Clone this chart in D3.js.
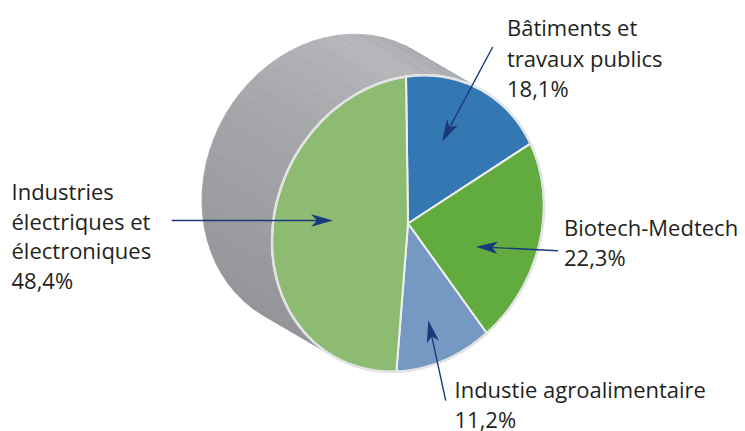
<!DOCTYPE html>
<html>
<head>
<meta charset="utf-8">
<script src="https://cdn.jsdelivr.net/npm/d3@7"></script>
<style>
  html, body { margin: 0; padding: 0; background: #fff; }
  svg { display: block; }
  text { font-family: "Open Sans", "Noto Sans", sans-serif; fill: #231f20; }
</style>
</head>
<body>
<svg id="chart" width="745" height="431"></svg>
<script>
// ---- data ----
const categories = ["Bâtiments et travaux publics", "Biotech-Medtech", "Industie agroalimentaire", "Industries électriques et électroniques"];
const values = [18.1, 22.3, 11.2, 48.4];
const colors = ["#3478b3", "#62ab3e", "#7699c3", "#8ebb72"];
const nameLines = [["Bâtiments et", "travaux publics"], ["Biotech-Medtech"], ["Industie agroalimentaire"], ["Industries", "électriques et", "électroniques"]];

// ---- layout ----
const W = 745, H = 431;
const cx = 408, cy = 223.5;
const M = [136, 2, -20, 147];      // x' = a*x + b*y ; y' = c*x + d*y  (tilted disc)
const depth = [-70, -41];          // offset of the back face
const labelPos = [
  {x: 507, y: 36, lh: 30.6},
  {x: 564, y: 236, lh: 30},
  {x: 454.5, y: 397.5, lh: 30.3},
  {x: 11.5, y: 200, lh: 29.7}
];
const arrowStart = [[492.7, 47], [558, 250.7], [445.7, 400.7], [171.7, 220.5]];
const arrowTip = [[26.3, 0.582], [114.4, 0.545], [168.4, 0.693], [279.8, 0.558]]; // degrees, radius fraction
const arrowColor = "#173a7c";

const svg = d3.select("#chart");

function proj(x, y) { return [cx + M[0]*x + M[1]*y, cy + M[2]*x + M[3]*y]; }
function rim(theta, r = 1) { return proj(r*Math.sin(theta), -r*Math.cos(theta)); }

// ---- cylinder side ----
const side = svg.append("g");
const step = Math.PI / 36;
const shade = d3.interpolateRgb("#b7b8bc", "#919296");
for (let t = 0; t < 2*Math.PI - 1e-9; t += step) {
  const tm = t + step/2;
  const T = [M[0]*Math.cos(tm) + M[1]*Math.sin(tm), M[2]*Math.cos(tm) + M[3]*Math.sin(tm)];
  const cross = T[0]*depth[1] - T[1]*depth[0];
  if (cross >= 0) continue;
  const f1 = rim(t), f2 = rim(t + step);
  const b1 = [f1[0] + depth[0], f1[1] + depth[1]], b2 = [f2[0] + depth[0], f2[1] + depth[1]];
  const k = Math.pow((1 - Math.cos(tm)) / 2, 0.45);
  const col = shade(k);
  side.append("path")
    .attr("d", d3.line()([f1, f2, b2, b1]) + "Z")
    .attr("fill", col).attr("stroke", col).attr("stroke-width", 0.8);
}
// faint generator lines
for (let t = 0; t < 2*Math.PI - 1e-9; t += step*2) {
  const T = [M[0]*Math.cos(t) + M[1]*Math.sin(t), M[2]*Math.cos(t) + M[3]*Math.sin(t)];
  const cross = T[0]*depth[1] - T[1]*depth[0];
  if (cross >= 0) continue;
  const f = rim(t);
  side.append("line")
    .attr("x1", f[0]).attr("y1", f[1]).attr("x2", f[0] + depth[0]).attr("y2", f[1] + depth[1])
    .attr("stroke", "#85868a").attr("stroke-opacity", 0.35).attr("stroke-width", 0.6);
}

// ---- pie face ----
const arcs = d3.pie().sort(null).value(d => d)(values);
const arc = d3.arc().innerRadius(0).outerRadius(1);
const face = svg.append("g")
  .attr("transform", `matrix(${M[0]},${M[2]},${M[1]},${M[3]},${cx},${cy})`);
face.selectAll("path.slice").data(arcs).join("path")
  .attr("class", "slice")
  .attr("d", arc)
  .attr("fill", (d, i) => colors[i])
  .attr("stroke", "#eef0ee")
  .attr("stroke-width", 2)
  .attr("stroke-linejoin", "round")
  .attr("vector-effect", "non-scaling-stroke");
face.append("path")
  .attr("d", d3.arc().innerRadius(0).outerRadius(1)({startAngle: 0, endAngle: 2*Math.PI}))
  .attr("fill", "none")
  .attr("stroke", "#e2e3e3")
  .attr("stroke-width", 2.5)
  .attr("vector-effect", "non-scaling-stroke");

// ---- arrows ----
const ag = svg.append("g");
arrowTip.forEach((tp, i) => {
  const tip = rim(tp[0] * Math.PI / 180, tp[1]);
  const s = arrowStart[i];
  const ang = Math.atan2(tip[1] - s[1], tip[0] - s[0]);
  const ca = Math.cos(ang), sa = Math.sin(ang);
  const back = [tip[0] - 14*ca, tip[1] - 14*sa];
  ag.append("line")
    .attr("x1", s[0]).attr("y1", s[1]).attr("x2", back[0]).attr("y2", back[1])
    .attr("stroke", arrowColor).attr("stroke-width", 1.4);
  const pts = [[0, 0], [-22, -6.2], [-16, 0], [-22, 6.2]].map(([x, y]) =>
    [tip[0] + x*ca - y*sa, tip[1] + x*sa + y*ca]);
  ag.append("path").attr("d", d3.line()(pts) + "Z").attr("fill", arrowColor);
});

// ---- labels ----
const fmt = v => d3.format(".1f")(v).replace(".", ",") + "%";
const lg = svg.append("g");
categories.forEach((c, i) => {
  const lines = nameLines[i].concat([fmt(values[i])]);
  const p = labelPos[i];
  const t = lg.append("text").attr("font-size", 22);
  lines.forEach((ln, j) => {
    t.append("tspan").attr("x", p.x).attr("y", p.y + j*p.lh).text(ln);
  });
});
</script>
</body>
</html>
